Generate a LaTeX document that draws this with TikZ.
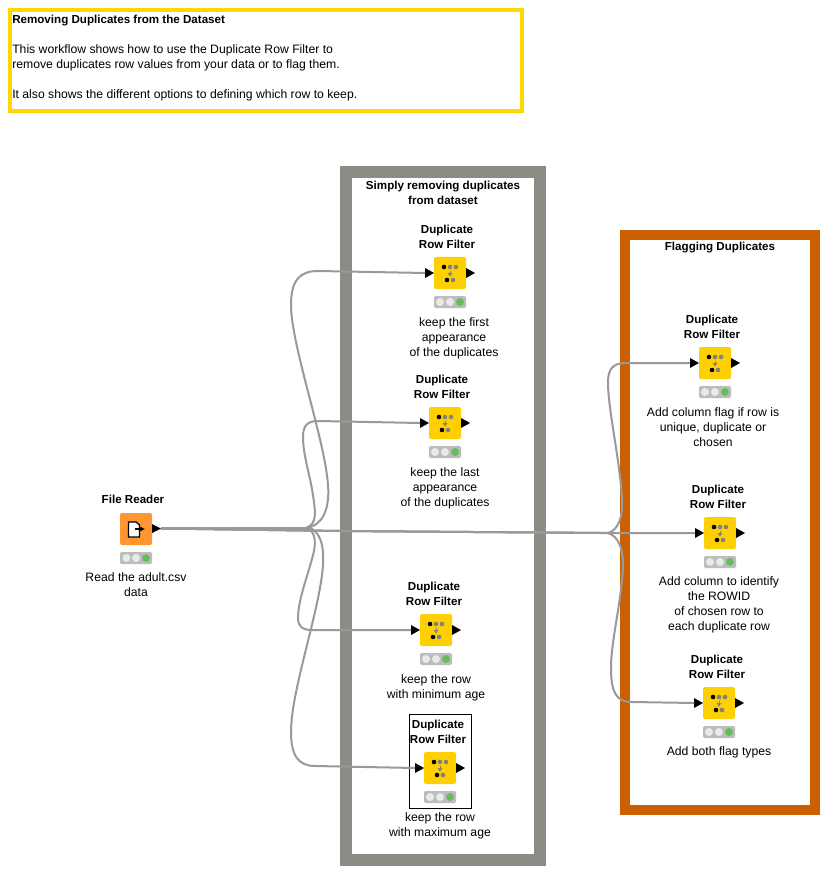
\documentclass[tikz,border=0pt]{standalone}
\usepackage{fontspec}
\setmainfont{Liberation Sans}
\usetikzlibrary{calc}
\usetikzlibrary{arrows.meta}
\definecolor{knimeyellow}{HTML}{FFD000}
\definecolor{annoyellow}{HTML}{FFD800}
\definecolor{readerorange}{HTML}{FF9632}
\definecolor{framegray}{HTML}{8A8C85}
\definecolor{frameorange}{HTML}{CC5F00}
\definecolor{wiregray}{HTML}{999999}
\definecolor{lightbar}{HTML}{BDBDBD}
\definecolor{lamp}{HTML}{EAEAEA}
\definecolor{lampgreen}{HTML}{66BB5C}
\tikzset{
    txt/.style={font=\fontsize{9.15}{11.25}\selectfont, align=center, inner sep=0pt},
    title/.style={txt, font=\fontsize{8.7}{11.25}\selectfont\bfseries},
    filter/.style={fill=knimeyellow, rounded corners=1.5pt, minimum size=24pt, inner sep=0pt},
    reader/.style={fill=readerorange, rounded corners=1.5pt, minimum size=24pt, inner sep=0pt},
    wire/.style={wiregray, line width=1.5pt},
}
\begin{document}
\begin{tikzpicture}[x=0.75pt, y=-0.75pt]
    \path[use as bounding box, fill=white] (0,0) rectangle (834,873);

    % Annotation frames
    \draw[annoyellow, line width=3pt] (10,10) rectangle (522,111);
    \draw[framegray, line width=9pt] (346,172) rectangle (540,860);
    \draw[frameorange, line width=7.5pt] (625,235) rectangle (815,810);
    \draw[black, line width=0.75pt] (409,714) rectangle (471,808);

    \node[txt, anchor=north west, align=left] (intro) at (12,15) {{\fontsize{8.7}{11.25}\selectfont\bfseries Removing Duplicates from the Dataset}\\[11.25pt]
        This workflow shows how to use the Duplicate Row Filter to\\
        remove duplicates row values from your data or to flag them.\\[11.25pt]
        It also shows the different options to defining which row to keep.};
    \node[title] (removehead) at (443,193) {Simply removing duplicates\\from dataset};
    \node[title] (flaghead) at (720,248) {Flagging Duplicates};

    % File reader
    \node[reader] (fr) at (136,529) {};
    \fill[black] (152,524) -- (161,528.5) -- (152,533) -- cycle;
    \coordinate (frout) at (161,528.5);
    \draw[black, fill=white, line width=0.9pt] (128.5,522) -- (136,522) -- (139.5,525) -- (139.5,537) -- (128.5,537) -- cycle;
    \draw[black, line width=0.9pt, -{Latex[length=3.5pt,width=4pt]}] (135,529) -- (145,529);
    \fill[lightbar, rounded corners=1pt] (120,552) rectangle (152,564);
    \foreach \dx in {-9.5,0} {
        \fill[lamp] (136+\dx,558) circle[radius=4];
    }
    \fill[lampgreen] (146,558) circle[radius=4];
    \node[title] (frtitle) at (133,499) {File Reader};
    \node[txt] (frnote) at (136,585) {Read the adult.csv\\data};

    % Duplicate Row Filter nodes
    \foreach \nm/\x/\y in {rowa/450/273, rowb/445/423, rowc/436/630, rowd/440/768, flaga/715/363, flagb/720/533, flagc/719/703} {
        \node[filter] (\nm) at (\x,\y) {};
        \coordinate (\nm-in) at (\x-25,\y);
        \fill[black] (\x-25,\y-5) -- (\x-16,\y) -- (\x-25,\y+5) -- cycle;
        \fill[black] (\x+16,\y-5) -- (\x+25,\y) -- (\x+16,\y+5) -- cycle;
        \fill[black] (\x-6,\y-6) circle[radius=2.3];
        \fill[gray] (\x,\y-6) circle[radius=2.3];
        \fill[gray] (\x+6,\y-6) circle[radius=2.3];
        \fill[black] (\x-3,\y+7) circle[radius=2.3];
        \fill[gray] (\x+3,\y+7) circle[radius=2.3];
        \draw[gray, line width=0.75pt, -{Latex[length=3pt,width=4pt]}] (\x,\y-2) -- (\x,\y+4);
        \fill[lightbar, rounded corners=1pt] (\x-16,\y+23) rectangle (\x+16,\y+35);
        \fill[lamp] (\x-10,\y+29) circle[radius=4];
        \fill[lamp] (\x,\y+29) circle[radius=4];
        \fill[lampgreen] (\x+10,\y+29) circle[radius=4];
    }

    % Titles and notes
    \foreach \nm/\x/\y in {rowa/447/237, rowb/442/387, rowc/434/594, rowd/438/732, flaga/712/327, flagb/718/497, flagc/717/667} {
        \node[title] (\nm-title) at (\x,\y) {Duplicate\\Row Filter};
    }
    \node[txt] (rowa-note) at (454,338) {keep the first\\appearance\\of the duplicates};
    \node[txt] (rowb-note) at (445,488) {keep the last\\appearance\\of the duplicates};
    \node[txt] (rowc-note) at (436,688) {keep the row\\with minimum age};
    \node[txt] (rowd-note) at (440,826) {keep the row\\with maximum age};
    \node[txt] (flaga-note) at (713,427.5) {Add column flag if row is\\unique, duplicate or\\chosen};
    \node[txt] (flagb-note) at (719,605) {Add column to identify\\the ROWID\\of chosen row to\\each duplicate row};
    \node[txt] (flagc-note) at (719,752.5) {Add both flag types};

    % Connections
    \draw[wire] (frout) -- (306,528) .. controls (322,526) and (330,510) .. (328,485) .. controls (325,440) and (291,345) .. (291,305) .. controls (291,280) and (300,271) .. (318,271) -- (rowa-in);
    \draw[wire] (frout) -- (306,528) .. controls (318,524) and (315,510) .. (313,495) .. controls (310,475) and (303,455) .. (303,437) .. controls (303,425) and (308,421) .. (318,421) -- (rowb-in);
    \draw[wire] (frout) -- (308,529) .. controls (316,532) and (316,545) .. (313,555) .. controls (308,575) and (298,600) .. (298,618) .. controls (298,626) and (302,630) .. (312,630) -- (rowc-in);
    \draw[wire] (frout) -- (312,529) .. controls (322,535) and (324,550) .. (323,565) .. controls (320,610) and (291,690) .. (291,732) .. controls (291,755) and (298,766) .. (315,766) -- (rowd-in);
    \draw[wire] (frout) -- (340,531) -- (600,533) -- (flagb-in);
    \draw[wire] (frout) -- (340,531) -- (608,533) .. controls (618,530) and (623,518) .. (622,500) .. controls (620,460) and (608,410) .. (608,382) .. controls (608,368) and (614,363) .. (626,363) -- (flaga-in);
    \draw[wire] (frout) -- (340,531) -- (608,533) .. controls (618,536) and (623,548) .. (623,565) .. controls (622,600) and (611,640) .. (611,668) .. controls (611,692) and (616,702) .. (632,702) -- (flagc-in);
\end{tikzpicture}
\end{document}
